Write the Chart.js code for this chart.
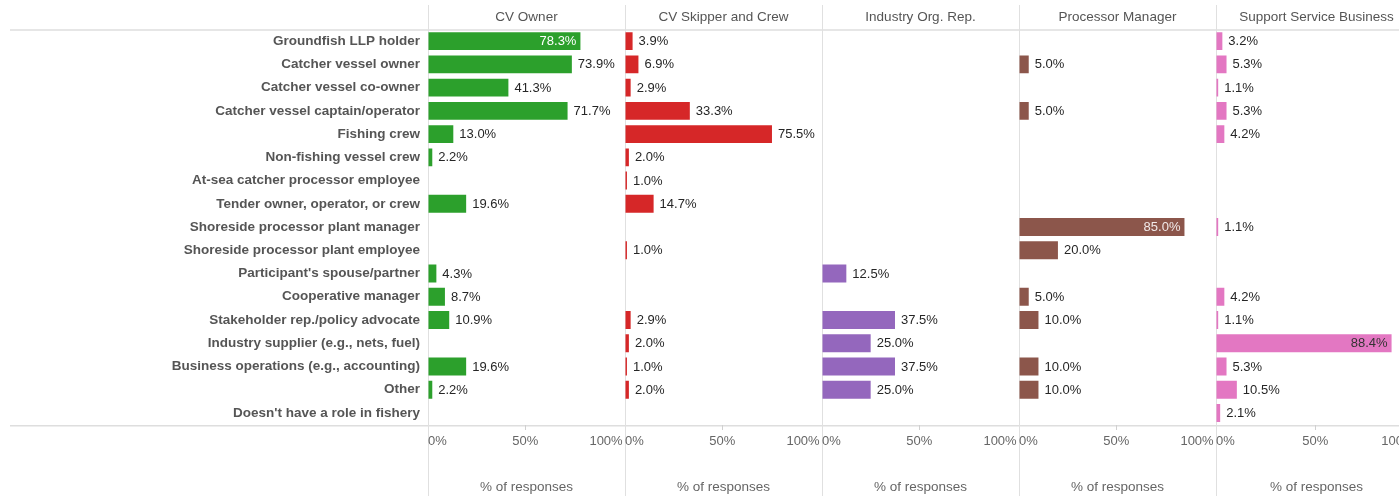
<!DOCTYPE html>
<html>
<head>
<meta charset="utf-8">
<script src="https://cdn.jsdelivr.net/npm/chart.js@4.4.1/dist/chart.umd.min.js"></script>
<style>
  body { margin: 0; background: #fff; overflow: hidden; }
  #wrap { position: relative; width: 1399px; height: 496px; overflow: hidden; }
  canvas { position: absolute; top: 0; }
</style>
</head>
<body>
<div id="wrap">
  <canvas id="p0"></canvas>
  <canvas id="p1"></canvas>
  <canvas id="p2"></canvas>
  <canvas id="p3"></canvas>
  <canvas id="p4"></canvas>
</div>
<script>
// role categories (rows)
const roles = [
  'Groundfish LLP holder',
  'Catcher vessel owner',
  'Catcher vessel co-owner',
  'Catcher vessel captain/operator',
  'Fishing crew',
  'Non-fishing vessel crew',
  'At-sea catcher processor employee',
  'Tender owner, operator, or crew',
  'Shoreside processor plant manager',
  'Shoreside processor plant employee',
  "Participant's spouse/partner",
  'Cooperative manager',
  'Stakeholder rep./policy advocate',
  'Industry supplier (e.g., nets, fuel)',
  'Business operations (e.g., accounting)',
  'Other',
  "Doesn't have a role in fishery"
];

// stakeholder groups (columns)
const groups = ['CV Owner', 'CV Skipper and Crew', 'Industry Org. Rep.', 'Processor Manager', 'Support Service Business'];

// % of responses per group, same order as roles
const cvOwner      = [78.3, 73.9, 41.3, 71.7, 13.0, 2.2, null, 19.6, null, null, 4.3, 8.7, 10.9, null, 19.6, 2.2, null];
const cvSkipper    = [3.9, 6.9, 2.9, 33.3, 75.5, 2.0, 1.0, 14.7, null, 1.0, null, null, 2.9, 2.0, 1.0, 2.0, null];
const industryOrg  = [null, null, null, null, null, null, null, null, null, null, 12.5, null, 37.5, 25.0, 37.5, 25.0, null];
const processorMgr = [null, 5.0, null, 5.0, null, null, null, null, 85.0, 20.0, null, 5.0, 10.0, null, 10.0, 10.0, null];
const supportSvc   = [3.2, 5.3, 1.1, 5.3, 4.2, null, null, null, 1.1, null, null, 4.2, 1.1, 88.4, 5.3, 10.5, 2.1];

const xTicks = [0, 50, 100];

const seriesList = [cvOwner, cvSkipper, industryOrg, processorMgr, supportSvc];
const colors = ['#2ca02c', '#d62728', '#9467bd', '#8c564b', '#e377c2'];
const insideText = ['#ffffff', '#ffffff', '#ffffff', '#f0e8e8', '#333333'];

const FONT = '"Liberation Sans", Arial, sans-serif';

// header, frame lines and value labels
const panelDecor = {
  id: 'panelDecor',
  beforeDraw(chart, args, opts) {
    const { ctx, chartArea: a, width, height } = chart;
    ctx.save();
    ctx.fillStyle = '#e6e6e6';
    ctx.fillRect(opts.lineStart, 29, width - opts.lineStart, 2);
    ctx.fillStyle = '#dedede';
    ctx.fillRect(opts.lineStart, 425, width - opts.lineStart, 1.5);
    ctx.fillStyle = '#e0e0e0';
    ctx.fillRect(a.left, 5, 1, height - 5);
    ctx.font = '13.5px ' + FONT;
    ctx.fillStyle = '#555';
    ctx.textAlign = 'center';
    ctx.textBaseline = 'middle';
    ctx.fillText(opts.title, (a.left + a.right) / 2, 17);
    ctx.restore();
  },
  afterDatasetsDraw(chart, args, opts) {
    const { ctx } = chart;
    const data = chart.data.datasets[0].data;
    ctx.save();
    ctx.font = '13px ' + FONT;
    ctx.textBaseline = 'middle';
    chart.getDatasetMeta(0).data.forEach((bar, i) => {
      const v = data[i];
      if (v == null) return;
      const txt = v.toFixed(1) + '%';
      if (v > 76) {
        ctx.textAlign = 'right';
        ctx.fillStyle = opts.inside;
        ctx.fillText(txt, bar.x - 4, bar.y + 0.5);
      } else {
        ctx.textAlign = 'left';
        ctx.fillStyle = '#262626';
        ctx.fillText(txt, bar.x + 6, bar.y + 0.5);
      }
    });
    ctx.restore();
  }
};

const lefts = [0, 625, 822, 1019, 1216];
const widths = [625, 197, 197, 197, 201];

seriesList.forEach((series, i) => {
  const canvas = document.getElementById('p' + i);
  canvas.width = widths[i];
  canvas.height = 496;
  canvas.style.left = lefts[i] + 'px';
  const first = i === 0;

  new Chart(canvas, {
    type: 'bar',
    data: {
      labels: roles,
      datasets: [{
        data: series,
        backgroundColor: colors[i],
        borderWidth: 0,
        barPercentage: 0.77,
        categoryPercentage: 1
      }]
    },
    plugins: [panelDecor],
    options: {
      indexAxis: 'y',
      responsive: false,
      animation: false,
      layout: { padding: { top: 29.5, left: 0, right: 0, bottom: 0 } },
      plugins: {
        legend: { display: false },
        tooltip: { enabled: false },
        panelDecor: { title: groups[i], lineStart: first ? 10 : 0, inside: insideText[i] }
      },
      scales: {
        x: {
          min: 0,
          max: 101.2,
          border: { display: false },
          grid: {
            drawOnChartArea: false,
            drawTicks: true,
            tickLength: 9,
            tickBorderDash: [5, 40],
            color: (c) => (c.tick && c.tick.value === 50 ? '#d0d0d0' : 'rgba(0,0,0,0)')
          },
          afterBuildTicks: (scale) => { scale.ticks = xTicks.map(v => ({ value: v })); },
          afterFit: (scale) => { scale.height = 71.4; },
          ticks: {
            align: 'inner',
            padding: 0,
            maxRotation: 0,
            color: '#666',
            font: { family: FONT, size: 13 },
            callback: (v) => v + '%'
          },
          title: {
            display: true,
            text: '% of responses',
            color: '#666',
            font: { family: FONT, size: 13.5 },
            padding: { top: 29.6, bottom: 1 }
          }
        },
        y: {
          display: first,
          grid: { display: false, drawTicks: false },
          border: { display: false },
          ticks: {
            padding: 8,
            color: '#555',
            font: { family: FONT, size: 13.5, weight: 'bold' }
          },
          afterFit: (scale) => { scale.width = first ? 428 : 0; }
        }
      }
    }
  });
});
</script>
</body>
</html>
